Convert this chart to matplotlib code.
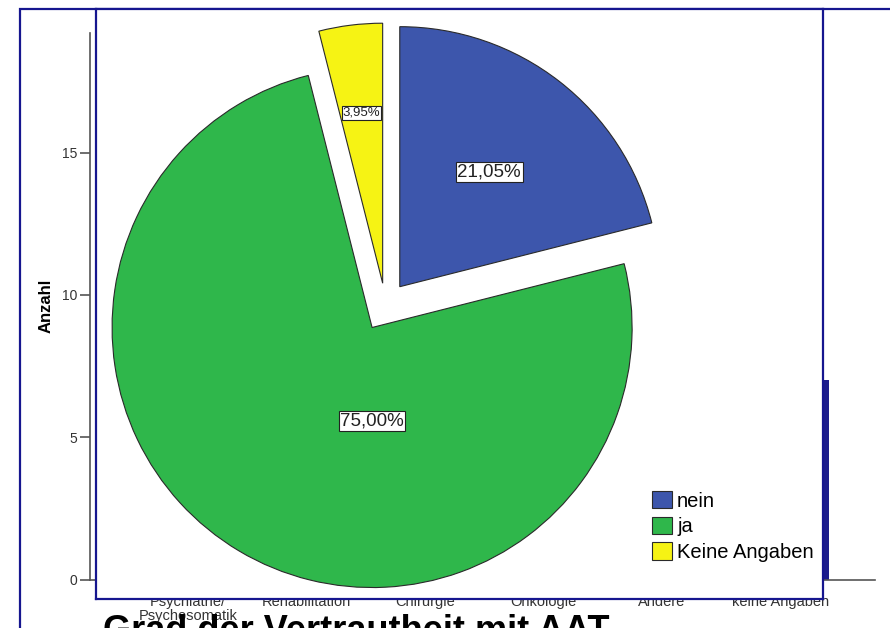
import matplotlib
matplotlib.use("Agg")
import matplotlib.pyplot as plt
import numpy as np
from matplotlib.patches import Rectangle

plt.rcParams['font.family'] = ['Liberation Sans', 'DejaVu Sans']

# background bar chart (mostly hidden behind the pie box)
categories = ['Psychiatrie/\nPsychosomatik', 'Rehabilitation', 'Chirurgie',
              'Onkologie', 'Andere', 'keine Angaben']
# only the last bar is visible in the picture, the others are covered
counts = [np.nan, np.nan, np.nan, np.nan, np.nan, 7]
y_ticks = [0, 5, 10, 15]

# pie chart on top
pie_labels = ['nein', 'ja', 'Keine Angaben']
pie_counts = [16, 57, 3]
pie_colors = ['#3d56ac', '#2fb74b', '#f6f314']

W, H = 890, 628
NAVY = '#16168f'


def px_rect(x0, y0, x1, y1):
    return [x0 / W, 1 - y1 / H, (x1 - x0) / W, (y1 - y0) / H]


fig = plt.figure(figsize=(W / 100, H / 100), dpi=100)

# outer frame, runs off the right and bottom edge
fig.add_artist(Rectangle((20 / W, 1 - 645 / H), 900 / W, 636 / H,
                         transform=fig.transFigure, fill=False,
                         edgecolor=NAVY, linewidth=1.6, zorder=0))

bar_ax = fig.add_axes(px_rect(89.5, 33, 875, 579.5))
x = np.arange(len(categories))
bar_ax.bar(x, counts, width=0.82, color='#1c1c8c')
bar_ax.set_xlim(-0.83, 5.8)
bar_ax.set_ylim(0, 19.2)
bar_ax.set_yticks(y_ticks)
bar_ax.set_xticks(x)
bar_ax.set_xticklabels(categories, fontsize=10.5, color='#333333', linespacing=1.0)
bar_ax.tick_params(axis='x', length=0, pad=11)
bar_ax.tick_params(axis='y', length=7, width=1.2, color='#555555',
                   labelsize=10, labelcolor='#333333', pad=2)
bar_ax.set_ylabel('Anzahl', fontsize=12, fontweight='bold', labelpad=6)
for side in ['top', 'right']:
    bar_ax.spines[side].set_visible(False)
for side in ['left', 'bottom']:
    bar_ax.spines[side].set_color('#555555')
    bar_ax.spines[side].set_linewidth(1.2)

fig.text(103 / W, 1 - 641 / H, 'Grad der Vertrautheit mit AAT',
         fontsize=26, fontweight='bold', ha='left', va='baseline')

# pie box
pie_ax = fig.add_axes(px_rect(96, 9, 823, 599), zorder=3)
wedges, _ = pie_ax.pie(pie_counts, colors=pie_colors, explode=[0.09, 0.1, 0.085],
                       startangle=90, counterclock=False, radius=1,
                       wedgeprops=dict(edgecolor='#2a2a2a', linewidth=0.8))
pie_ax.set_aspect('auto')
pie_ax.set_xlim(-1.113, 1.683)
pie_ax.set_ylim(-1.130, 1.139)
pie_ax.set_frame_on(True)
pie_ax.set_facecolor('white')
pie_ax.set_xticks([])
pie_ax.set_yticks([])
for sp in pie_ax.spines.values():
    sp.set_color(NAVY)
    sp.set_linewidth(1.6)

total = sum(pie_counts)
label_dist = [0.56, 0.36, 0.66]
label_angle = [None, -90, None]
label_size = [13.5, 13.5, 9.5]
for w, n, d, a, fs in zip(wedges, pie_counts, label_dist, label_angle, label_size):
    ang = (w.theta1 + w.theta2) / 2 if a is None else a
    cx, cy = w.center
    tx = cx + d * np.cos(np.deg2rad(ang))
    ty = cy + d * np.sin(np.deg2rad(ang))
    txt = f"{100 * n / total:.2f}%".replace('.', ',')
    pie_ax.text(tx, ty, txt, ha='center', va='center', fontsize=fs, color='#222222',
                bbox=dict(boxstyle='square,pad=0.08', facecolor='white',
                          edgecolor='#222222', linewidth=0.8))

pie_ax.legend(wedges, pie_labels, loc='upper left',
              bbox_to_anchor=(652 / W, 1 - 491 / H), bbox_transform=fig.transFigure,
              frameon=False, fontsize=14.5, borderpad=0, borderaxespad=0,
              handlelength=1.0, handleheight=0.95, handletextpad=0.25,
              labelspacing=0.3)

fig.savefig('out.png', dpi=100)
